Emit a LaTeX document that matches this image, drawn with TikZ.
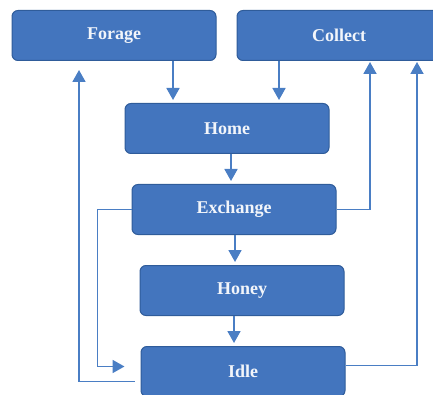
\documentclass[tikz,border=0pt]{standalone}
\usepackage{fontspec}
\setmainfont{Liberation Serif}
\usetikzlibrary{arrows.meta,positioning,calc}
\definecolor{BeeFill}{HTML}{4375BE}
\definecolor{BeeEdge}{HTML}{2F5C9A}
\definecolor{BeeLine}{HTML}{4A7EC4}
\definecolor{BeeText}{HTML}{F2F5FA}

\begin{document}
\begin{tikzpicture}[
      x=1pt,y=-1pt,
      node distance=30pt,
      box/.style={draw=BeeEdge,fill=BeeFill,rounded corners=6pt,line width=1pt,
        minimum width=204pt,minimum height=50pt,inner sep=0pt,
        text=BeeText,font=\fontsize{18}{21}\selectfont\bfseries},
      arrow/.style={-{Triangle[width=13pt,length=12pt]},line width=1.8pt,BeeLine}
    ]
      \useasboundingbox (0,0) rectangle (433,395);
      \node[box] (forage) at (114,35.5) {Forage};
      \node[box] (collect) at (339,35.5) {Collect};
      \node[box] (home) at (227,128.5) {Home};
      \node[box,below=of home,xshift=7pt] (exchange) {Exchange};
      \node[box,below=of exchange,xshift=8pt] (honey) {Honey};
      \node[box,below=of honey,xshift=1pt] (idle) {Idle};
      \draw[arrow,shorten >=3pt] ([xshift=59pt]forage.south) -- ([xshift=59pt]forage.south |- home.north);
      \draw[arrow,shorten >=3pt] ([xshift=-60pt]collect.south) -- ([xshift=-60pt]collect.south |- home.north);
      \draw[arrow,shorten >=3pt] ([xshift=4pt]home.south) -- ([xshift=4pt]home.south |- exchange.north);
      \draw[arrow,shorten >=3pt] ([xshift=1pt]exchange.south) -- ([xshift=1pt]exchange.south |- honey.north);
      \draw[arrow,shorten >=3pt] ([xshift=-8pt]honey.south) -- ([xshift=-8pt]honey.south |- idle.north);
      \draw[arrow,shorten >=16pt] (exchange.west) -- ++(-34,0) |- ([yshift=5pt]idle.west);
      \draw[arrow,shorten >=9pt] ([xshift=-6pt,yshift=-10pt]idle.west) -| ([xshift=-35pt]forage.south);
      \draw[arrow,shorten >=1pt] (exchange.east) -| ([xshift=31pt]collect.south);
      \draw[arrow,shorten >=1pt] ([yshift=6pt]idle.east) -| ([xshift=78pt]collect.south);
    \end{tikzpicture}
\end{document}
